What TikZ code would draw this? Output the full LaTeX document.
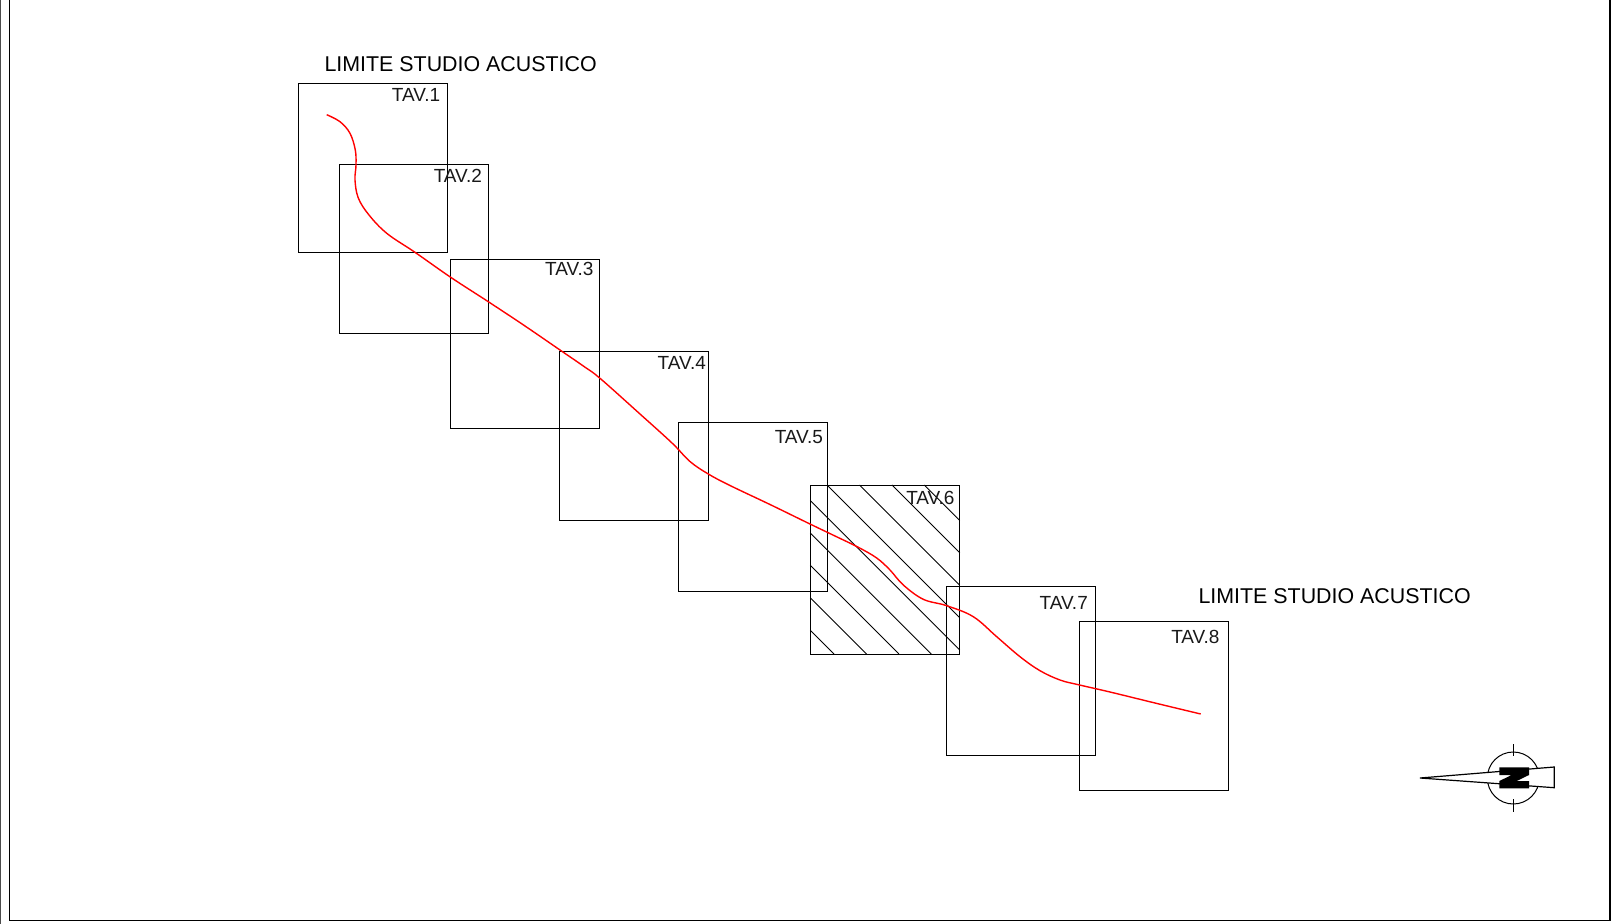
\documentclass[tikz,border=0pt]{standalone}
\usepackage{fontspec}
\setmainfont{Liberation Sans}

\begin{document}
\begin{tikzpicture}[x=1pt, y=-1pt, line width=1pt]

\tikzstyle{tav}=[draw, minimum width=149.4pt, minimum height=169pt, inner sep=0pt, outer sep=0pt]
\tikzstyle{tavlabel}=[anchor=base east, inner sep=0pt, font=\fontsize{19}{22}\selectfont, text=black!90]
\tikzstyle{limite}=[anchor=base west, inner sep=0pt, font=\fontsize{21.4}{24}\selectfont, text=black]
\tikzstyle{hatch}=[line width=0.9pt]
\tikzstyle{route}=[red, line width=1.4pt]

\useasboundingbox (0,0) rectangle (1618,924);

% --- sheet frame ---
\draw[black!70] (0.5,0) -- (0.5,924);
\draw[line width=1.2pt] (9.5,0) -- (9.5,920.3) -- (1610,920.3) -- (1610,0);

% --- sheets ---
\node[tav] (tav1) at (373.0,167.8) {};
\node[tav] (tav2) at (413.8,248.5) {};
\node[tav] (tav3) at (525.2,343.5) {};
\node[tav] (tav4) at (634.2,435.5) {};
\node[tav] (tav5) at (752.8,507.3) {};
\node[tav] (tav6) at (885.0,569.5) {};
\node[tav] (tav7) at (1021.0,671.2) {};
\node[tav] (tav8) at (1153.8,705.5) {};

% --- hatching of sheet 6 ---
\draw[hatch] (924.3,485) -- (959.7,520.4);
\draw[hatch] (891.9,485) -- (959.7,552.8);
\draw[hatch] (859.5,485) -- (959.7,585.2);
\draw[hatch] (827.1,485) -- (959.7,617.6);
\draw[hatch] (810.3,500.6) -- (959.7,650.0);
\draw[hatch] (810.3,533.0) -- (931.3,654);
\draw[hatch] (810.3,565.4) -- (898.9,654);
\draw[hatch] (810.3,597.8) -- (866.5,654);
\draw[hatch] (810.3,630.2) -- (834.1,654);

% --- sheet labels ---
\node[tavlabel] (lab1) at ([xshift=-7pt,yshift=-17.7pt]tav1.north east) {TAV.1};
\node[tavlabel] (lab2) at ([xshift=-6pt,yshift=-18.3pt]tav2.north east) {TAV.2};
\node[tavlabel] (lab3) at ([xshift=-6pt,yshift=-16.7pt]tav3.north east) {TAV.3};
\node[tavlabel] (lab4) at ([xshift=-2.5pt,yshift=-18.3pt]tav4.north east) {TAV.4};
\node[tavlabel] (lab5) at ([xshift=-4pt,yshift=-20.3pt]tav5.north east) {TAV.5};
\node[tavlabel] (lab6) at ([xshift=-4.7pt,yshift=-19pt]tav6.north east) {TAV.6};
\node[tavlabel] (lab7) at ([xshift=-7.4pt,yshift=-22.3pt]tav7.north east) {TAV.7};
\node[tavlabel] (lab8) at ([xshift=-8.5pt,yshift=-22.3pt]tav8.north east) {TAV.8};

% --- captions ---
\node[limite] (lim1) at (324,71) {LIMITE STUDIO ACUSTICO};
\node[limite] (lim2) at (1198,603.5) {LIMITE STUDIO ACUSTICO};

% --- route ---
\draw[route] plot[smooth, tension=0.6] coordinates {
  (326.7,114.7) (340,121.7) (350,133.3) (355.3,150) (356,165) (355,180)
  (358.3,198) (369,215) (387,233.5) (415,252.3) (450.7,277.3) (488.3,301.7)
  (525,326) (560,350) (583.3,366) (600,378.3) (640,414) (672,443) (690,461.5) (708.3,474)
  (730,485.5) (770,504.5) (810,524) (835,536) (858.3,547.3) (876.7,558) (890,570)
  (903.3,585) (923.3,599.3) (946.7,605.7) (973.3,616.7) (996.7,636.7)
  (1020,656.7) (1040,670.7) (1060,680) (1078.3,684.7) (1110,692) (1155,703) (1200.7,714)};

% --- north mark ---
\draw (1513.3,778) circle (26);
\draw (1513.3,744) -- (1513.3,756);
\draw (1513.3,799.3) -- (1513.3,811.7);
\draw[fill=white, line width=1.2pt] (1420,778) -- (1554.3,767) -- (1554.3,787.7) -- cycle;
\fill (1499.3,767.3) -- (1529,767.3) -- (1529,775) -- (1516.7,781) -- (1529,781) -- (1529,788.3)
  -- (1499.3,788.3) -- (1499.3,781) -- (1511.7,775) -- (1499.3,775) -- cycle;

\end{tikzpicture}
\end{document}
